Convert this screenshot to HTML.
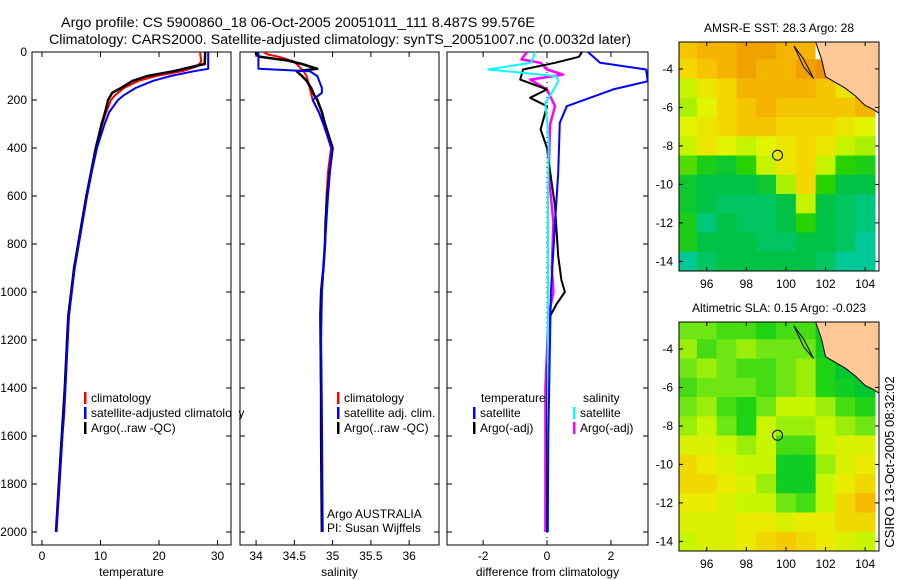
<!DOCTYPE html>
<html><head><meta charset="utf-8"><style>
html,body{margin:0;padding:0;background:#fff;}
svg{display:block;font-family:"Liberation Sans",sans-serif;}
</style></head><body>
<svg id="fig" width="900" height="580" viewBox="0 0 900 580" xmlns="http://www.w3.org/2000/svg">
<text x="61" y="27" font-size="14" textLength="474" lengthAdjust="spacingAndGlyphs">Argo profile: CS 5900860_18 06-Oct-2005 20051011_111 8.487S 99.576E</text>
<text x="49" y="44" font-size="14" textLength="582" lengthAdjust="spacingAndGlyphs">Climatology: CARS2000. Satellite-adjusted climatology: synTS_20051007.nc (0.0032d later)</text>
<text transform="translate(894,462) rotate(-90)" font-size="13" text-anchor="middle">CSIRO 13-Oct-2005 08:32:02</text>
</svg>
<script>
// ---- profile data (depth in m) ----
const tClimDepth=[0,40,60,80,100,120,150,180,200,250,300,400,500,600,700,800,900,1000,1100,1200,1400,1500,1600,1800,2000];
const tClimVal=[27.0,27.2,26.5,24,19.5,16.5,14,12.5,11.8,11,10.3,9.3,8.5,7.7,7,6.3,5.6,5.1,4.6,4.4,4,3.8,3.5,3,2.5];
const tSatDepth=[0,70,80,100,120,150,180,200,250,300,400,500,600,700,800,900,1000,1100,1200,1400,1500,1600,1800,2000];
const tSatVal=[28.4,28.4,26,22,19,16,14,13,11.5,10.7,9.4,8.5,7.7,7,6.3,5.6,5.1,4.6,4.4,4,3.8,3.5,3,2.4];
const tArgoDepth=[0,50,60,80,100,120,150,170,200,250,300,400,500,600,700,800,900,1000,1100,1200,1400,1600,1800,2000];
const tArgoVal=[27.9,27.8,26,22.5,18,15.5,13.5,12,11.3,10.8,10.2,9.2,8.4,7.6,6.9,6.2,5.5,5.0,4.5,4.3,3.9,3.4,2.9,2.4];
const sClimDepth=[0,10,20,40,80,100,150,200,250,300,400,500,600,800,1000,1200,1500,2000];
const sClimVal=[34.1,34.15,34.3,34.5,34.62,34.66,34.7,34.74,34.82,34.88,34.98,34.94,34.92,34.9,34.86,34.84,34.85,34.86];
const sSatDepth=[0,70,80,100,150,170,200,250,300,400,600,800,1000,1200,1500,2000];
const sSatVal=[34.03,34.03,34.7,34.8,34.86,34.86,34.74,34.82,34.88,34.99,34.94,34.9,34.86,34.85,34.86,34.87];
const sArgoDepth=[0,10,20,35,50,70,80,100,120,150,180,200,250,300,400,500,600,700,800,900,1000,1100,1400,1600,2000];
const sArgoVal=[34.0,34.0,34.05,34.4,34.6,34.8,34.53,34.6,34.66,34.72,34.76,34.8,34.86,34.9,35.0,34.96,34.93,34.91,34.9,34.88,34.85,34.84,34.85,34.85,34.86];
const dTSatDepth=[0,45,73,122,156,226,295,504,712,1000,1300,1600,2000];
const dTSatVal=[1.28,1.66,3.1,3.15,2.07,0.62,0.4,0.35,0.25,0.12,0.08,0.04,0.02];
const dTArgoDepth=[0,20,45,73,115,156,191,226,323,400,500,642,746,850,950,1000,1050,1100,1300,1600,2000];
const dTArgoVal=[1.09,1.0,0.25,-0.75,-0.84,0,-0.53,0,-0.2,0,0.1,0.25,0.3,0.35,0.45,0.56,0.3,0.1,0.02,0.0,0.0];
const dSSatDepth=[0,30,45,73,87,101,122,170,212,365,600,1000,1500,2000];
const dSSatVal=[-0.37,-0.45,-0.5,-1.84,-0.75,0.3,0.35,0.15,-0.05,0.05,0.03,0.03,0.03,0.03];
const dSArgoDepth=[0,31,45,73,94,115,156,226,300,500,712,900,1000,1100,1400,2000];
const dSArgoVal=[-0.63,-0.8,-0.2,0,0.5,-0.53,0,0.25,0.1,0.05,0.2,0.15,0.2,0.05,-0.05,-0.05];
const depthTicks=[0,200,400,600,800,1000,1200,1400,1600,1800,2000];
const tTicks=[0,10,20,30];
const sTicks=[34,34.5,35,35.5,36];
const sTickLabels=["34","34.5","35","35.5","36"];
const dTicks=[-2,0,2];
// ---- map data: rows lat -3..-14, cols lon 95..104 (NaN = no data) ----
const mapLons=[95,96,97,98,99,100,101,102,103,104];
const mapLats=[-3,-4,-5,-6,-7,-8,-9,-10,-11,-12,-13,-14];
const sstRows=[
[28.4,28.5,28.5,28.6,28.6,28.5,28.5,NaN,NaN,NaN],
[28.3,28.4,28.5,28.6,28.5,28.5,28.6,28.7,28.9,NaN],
[28.0,28.2,28.3,28.5,28.5,28.5,28.5,28.4,28.2,28.7],
[27.9,28.1,28.3,28.4,28.5,28.4,28.4,28.4,28.4,28.5],
[28.1,28.2,28.3,28.4,28.4,28.3,28.3,28.3,28.2,28.1],
[28.0,28.2,28.1,28.0,28.1,28.2,28.3,28.2,28.0,27.9],
[27.7,27.5,27.4,27.6,28.0,28.2,28.3,28.0,27.6,27.5],
[27.4,27.3,27.3,27.3,27.4,27.9,28.3,27.6,27.3,27.3],
[27.4,27.3,27.2,27.2,27.2,27.3,28.0,27.3,27.2,27.1],
[27.5,27.1,27.3,27.2,27.2,27.3,27.6,27.3,27.2,27.1],
[27.5,27.3,27.3,27.3,27.2,27.2,27.3,27.3,27.2,27.0],
[27.0,27.2,27.3,27.3,27.3,27.3,27.3,27.2,27.0,27.0]];
const slaRows=[
[.12,.12,.11,.11,.10,.11,.11,.09,.09,.09],
[.13,.11,.12,.13,.12,.12,.12,.09,.09,.09],
[.12,.13,.12,.11,.11,.12,.13,.10,.08,.09],
[.11,.12,.12,.12,.11,.12,.13,.10,.09,.08],
[.12,.13,.11,.10,.12,.14,.14,.13,.11,.10],
[.13,.14,.12,.10,.14,.13,.13,.14,.13,.12],
[.15,.15,.14,.13,.14,.11,.11,.14,.15,.15],
[.17,.16,.15,.14,.14,.09,.09,.13,.15,.16],
[.17,.17,.16,.15,.13,.09,.09,.14,.16,.17],
[.16,.16,.15,.14,.14,.12,.11,.14,.17,.19],
[.15,.15,.15,.16,.16,.15,.16,.16,.17,.17],
[.14,.15,.15,.16,.17,.18,.17,.16,.15,.14]];
const mapLonTicks=[96,98,100,102,104];
const mapLatTicks=[-4,-6,-8,-10,-12,-14];
const mapLatLabels=["-4","-6","-8","-10","-12","-14"];
const floatLon=99.576, floatLat=-8.487;
const coastLon=[101.5,101.8,102.0,102.5,103.0,103.5,104.0,104.4,104.7];
const coastLat=[-2.6,-3.5,-4.4,-4.7,-5.0,-5.4,-5.9,-6.1,-6.3];

const NS="http://www.w3.org/2000/svg";
const svg=document.getElementById('fig');
function mk(tag,attrs,parent){const e=document.createElementNS(NS,tag);for(const k in attrs)e.setAttribute(k,attrs[k]);(parent||svg).appendChild(e);return e;}
const Y0=52, YS=0.24;
function yD(d){return Y0+d*YS;}

function panel(name,x0,x1,xmin,xmax,ticks,labels,xlabel){
  const g=mk('g',{});
  
  
  const xf=v=>x0+(v-xmin)/(xmax-xmin)*(x1-x0);
  const fr=mk('rect',{x:x0,y:Y0,width:x1-x0,height:545-Y0,fill:'none',stroke:'#000','stroke-width':1},g);
  
  
  depthTicks.forEach(d=>{
    mk('line',{x1:x0,x2:x0+5,y1:yD(d),y2:yD(d),stroke:'#000'},g);
    mk('line',{x1:x1,x2:x1-5,y1:yD(d),y2:yD(d),stroke:'#000'},g);
  });
  ticks.forEach((t,i)=>{
    const x=xf(t);
    mk('line',{x1:x,x2:x,y1:545,y2:540,stroke:'#000'},g);
    mk('line',{x1:x,x2:x,y1:Y0,y2:Y0+5,stroke:'#000'},g);
    const tl=mk('text',{x:x,y:560,'font-size':12,'text-anchor':'middle'},g);
    tl.textContent=labels[i];
    
    
  });
  const xl=mk('text',{x:(x0+x1)/2,y:576,'font-size':12,'text-anchor':'middle'},g);
  xl.textContent=xlabel;
  
  
  return xf;
}
function line(xf,depths,vals,color,w,name,dash){
  const pts=depths.map((d,i)=>xf(vals[i]).toFixed(1)+','+yD(d).toFixed(1)).join(' ');
  const p=mk('polyline',{points:pts,fill:'none',stroke:color,'stroke-width':w,'stroke-linejoin':'round'});
  if(dash)p.setAttribute('stroke-dasharray',dash);
  
  
}
function legend(x,y,color,label){
  mk('rect',{x:x,y:y-10,width:2.5,height:12,fill:color});
  const t=mk('text',{x:x+7,y:y,'font-size':12});
  t.textContent=label;
  
  
}
depthTicks.forEach(d=>{
  const t=mk('text',{x:27,y:yD(d)+4,'font-size':12,'text-anchor':'end'});
  t.textContent=String(d);
  
  
});
const xT=panel('temperature-panel',32,231,-1.7,32.3,tTicks,tTicks.map(String),'temperature');
line(xT,tClimDepth,tClimVal,'#f00',2,'temp-climatology-line');
line(xT,tArgoDepth,tArgoVal,'#000',2.5,'temp-argo-line');
line(xT,tSatDepth,tSatVal,'#00f',2,'temp-satellite-line');
legend(84,402,'#f00','climatology');
legend(84,417,'#00f','satellite-adjusted climatology');
legend(84,432,'#000','Argo(..raw -QC)');
mk('rect',{x:232,y:405,width:7,height:16,fill:'#fff'});

const xS=panel('salinity-panel',240,439,33.79,36.39,sTicks,sTickLabels,'salinity');
line(xS,sClimDepth,sClimVal,'#f00',2,'sal-climatology-line');
line(xS,sArgoDepth,sArgoVal,'#000',2.5,'sal-argo-line');
line(xS,sSatDepth,sSatVal,'#00f',2,'sal-satellite-line');
legend(337,402,'#f00','climatology');
legend(337,417,'#00f','satellite adj. clim.');
legend(337,432,'#000','Argo(..raw -QC)');
const a1=mk('text',{x:327,y:518,'font-size':12});a1.textContent='Argo AUSTRALIA';


const a2=mk('text',{x:327,y:532,'font-size':12});a2.textContent='PI: Susan Wijffels';



const xDf=panel('difference-panel',447,648,-3.13,3.16,dTicks,dTicks.map(String),'difference from climatology');
mk('line',{x1:xDf(0),x2:xDf(0),y1:Y0,y2:545,stroke:'#000','stroke-dasharray':'1,4'});
line(xDf,dSArgoDepth,dSArgoVal,'#f0f',2.5,'diff-sal-argo-line');
line(xDf,dTArgoDepth,dTArgoVal,'#000',2,'diff-temp-argo-line');
line(xDf,dSSatDepth,dSSatVal,'#0ff',2,'diff-sal-satellite-line');
line(xDf,dTSatDepth,dTSatVal,'#00f',2,'diff-temp-satellite-line');
{const t=mk('text',{x:481,y:402,'font-size':12});t.textContent='temperature';


const s=mk('text',{x:583,y:402,'font-size':12});s.textContent='salinity';

}
legend(473,417,'#00f','satellite');
legend(473,432,'#000','Argo(-adj)');
legend(573,417,'#0ff','satellite');
legend(573,432,'#f0f','Argo(-adj)');

// ---- maps ----
function rgb(c){return 'rgb('+c.map(Math.round).join(',')+')';}
function lerpColor(stops,v){
  if(v<=stops[0][0])return rgb(stops[0][1]);
  for(let i=1;i<stops.length;i++){if(v<=stops[i][0]){const [a,ca]=stops[i-1],[b,cb]=stops[i];const t=(v-a)/(b-a);
    return rgb(ca.map((c,k)=>c+(cb[k]-c)*t));}}
  return rgb(stops[stops.length-1][1]);
}
const sstStops=[[27.0,[0,200,150]],[27.3,[0,195,70]],[27.6,[40,210,0]],[27.9,[170,240,0]],[28.1,[225,245,0]],[28.3,[245,215,0]],[28.5,[245,180,0]],[28.8,[230,130,0]],[29.0,[200,80,0]]];
const slaStops=[[0.08,[0,200,50]],[0.10,[30,210,20]],[0.12,[110,230,20]],[0.14,[200,245,0]],[0.16,[235,235,0]],[0.18,[245,200,0]],[0.20,[245,170,0]]];
function map(name,top,bottom,rows,stops,title){
  const L=679,R=879,lon0=94.6,lon1=104.7,lat0=-2.6,lat1=-14.5;
  const xm=lo=>L+(lo-lon0)/(lon1-lon0)*(R-L);
  const ym=la=>top+(la-lat0)/(lat1-lat0)*(bottom-top);
  const g=mk('g',{});
  
  
  rows.forEach((row,r)=>row.forEach((v,c)=>{
    const lo=mapLons[c],la=mapLats[r];
    const xa=Math.max(L,xm(lo-0.5)),xb=Math.min(R,xm(lo+0.5));
    const ya=Math.max(top,ym(la+0.5)),yb=Math.min(bottom,ym(la-0.5));
    const cell=mk('rect',{x:xa,y:ya,width:xb-xa+0.5,height:yb-ya+0.5,fill:isNaN(v)?'#fff':lerpColor(stops,v)},g);
    
    
  }));
  let pts=coastLon.map((lo,i)=>xm(lo)+','+ym(coastLat[i])).join(' ');
  pts+=' '+R+','+ym(-6.3)+' '+R+','+top;
  const land=mk('polygon',{points:pts,fill:'#ffc896',stroke:'#000','stroke-width':1},g);
  
  
  const isl=mk('polyline',{points:[xm(100.4),ym(-2.8),xm(100.9),ym(-3.5),xm(101.4),ym(-4.5),xm(100.9),ym(-3.9),xm(100.4),ym(-2.8)].join(' '),fill:'none',stroke:'#000'},g);
  
  
  const fl=mk('circle',{cx:xm(floatLon),cy:ym(floatLat),r:5,fill:'none',stroke:'#000'},g);
  
  
  const fr=mk('rect',{x:L,y:top,width:R-L,height:bottom-top,fill:'none',stroke:'#000'},g);
  
  
  mapLonTicks.forEach(lo=>{
    mk('line',{x1:xm(lo),x2:xm(lo),y1:bottom,y2:bottom-4,stroke:'#000'},g);
    mk('line',{x1:xm(lo),x2:xm(lo),y1:top,y2:top+4,stroke:'#000'},g);
    const t=mk('text',{x:xm(lo),y:bottom+17,'font-size':12,'text-anchor':'middle'},g);t.textContent=String(lo);
    
    
  });
  mapLatTicks.forEach((la,i)=>{
    mk('line',{x1:L,x2:L+4,y1:ym(la),y2:ym(la),stroke:'#000'},g);
    mk('line',{x1:R,x2:R-4,y1:ym(la),y2:ym(la),stroke:'#000'},g);
    const t=mk('text',{x:L-6,y:ym(la)+4,'font-size':12,'text-anchor':'end'},g);t.textContent=mapLatLabels[i];
    
    
  });
  const tt=mk('text',{x:(L+R)/2,y:top-10,'font-size':12,'text-anchor':'middle'},g);tt.textContent=title;
  
  
}
map('sst-map',42,271,sstRows,sstStops,'AMSR-E SST: 28.3 Argo: 28');
map('sla-map',322,551,slaRows,slaStops,'Altimetric SLA: 0.15 Argo: -0.023');
</script>
</body></html>
